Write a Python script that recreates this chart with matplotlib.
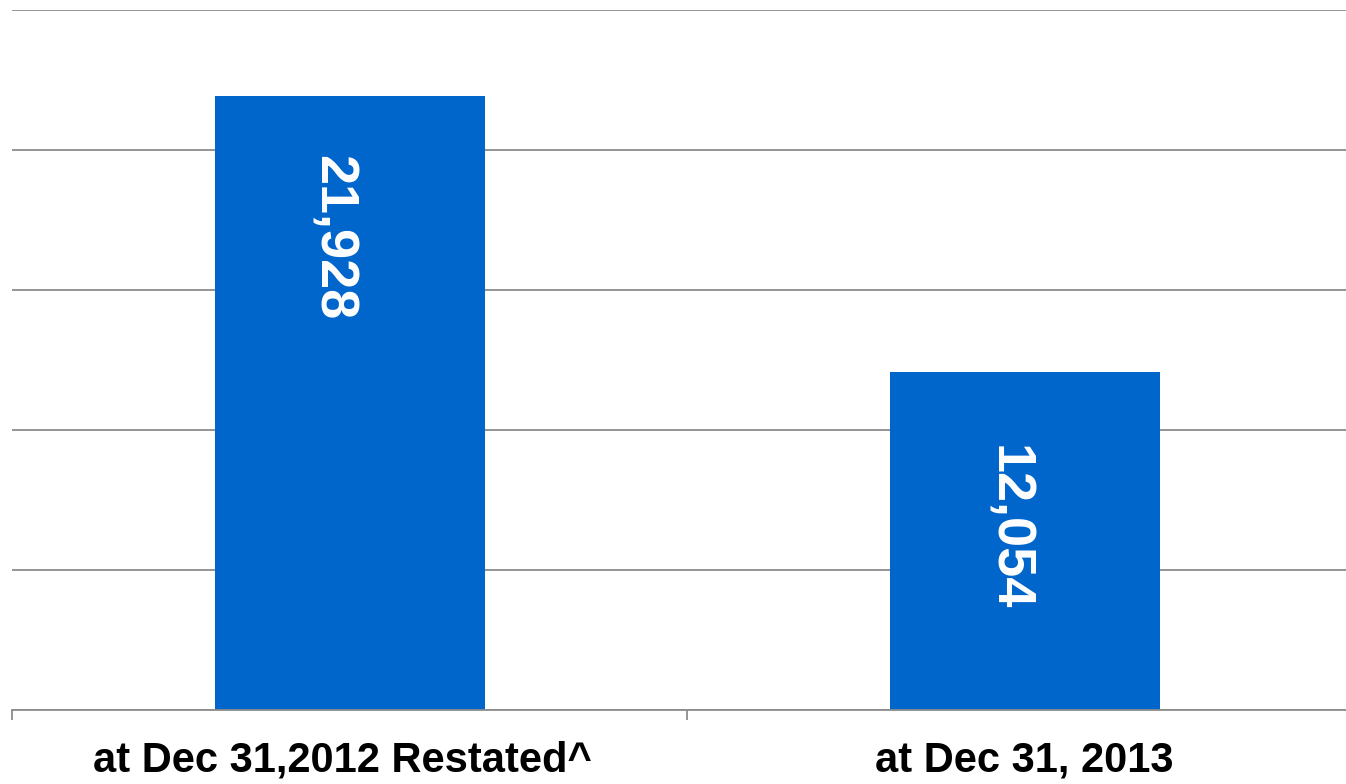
import matplotlib
matplotlib.use("Agg")
import matplotlib.pyplot as plt
from matplotlib.transforms import ScaledTranslation

# data
categories = ["at Dec 31,2012 Restated^", "at Dec 31, 2013"]
values = [21928, 12054]
value_labels = ["21,928", "12,054"]

plt.rcParams['font.family'] = ['Liberation Sans', 'DejaVu Sans']

fig = plt.figure(figsize=(13.46, 7.84), dpi=100)
ax = fig.add_axes([12 / 1346, 74 / 784, 1350 / 1346, 700 / 784])

xs = list(range(len(categories)))
bars = ax.bar(xs, values, width=0.4, color="#0066cc", zorder=3)

ax.set_xlim(-0.5, len(categories) - 0.5)
ax.set_ylim(0, 25000)
ax.set_yticks(range(0, 25001, 5000))
ax.yaxis.grid(True, color="#8c8c8c", linewidth=1.3)
ax.tick_params(axis="y", left=False, labelleft=False)

for s in ["left", "right", "top"]:
    ax.spines[s].set_visible(False)
ax.spines["bottom"].set_color("#8c8c8c")
ax.spines["bottom"].set_linewidth(1.3)
ax.spines["bottom"].set_zorder(4)

# ticks between categories, labels at centres
ax.set_xticks([x - 0.5 for x in xs] + [len(xs) - 0.5])
ax.tick_params(axis="x", which="major", length=7, width=1.3, color="#8c8c8c",
               labelbottom=False)
ax.set_xticks(xs, minor=True)
ax.set_xticklabels(categories, minor=True, fontsize=30, fontweight="bold")
ax.tick_params(axis="x", which="minor", length=0, pad=22)
lbl = ax.get_xticklabels(minor=True)[0]
lbl.set_transform(lbl.get_transform() + ScaledTranslation(-0.07, 0, fig.dpi_scale_trans))

# value labels inside bars, rotated
offsets = [-42.5, -52]
for b, lab, off in zip(bars, value_labels, offsets):
    ax.annotate(lab, (b.get_x() + b.get_width() / 2, b.get_height()),
                xytext=(-12, off), textcoords="offset points",
                rotation=-90, ha="center", va="top", color="white",
                fontsize=39, fontweight="bold", zorder=5)

fig.savefig("out.png", dpi=100)
